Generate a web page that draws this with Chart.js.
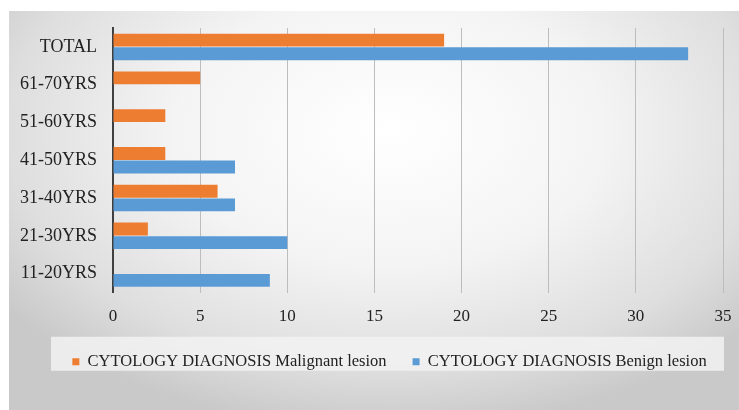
<!DOCTYPE html>
<html>
<head>
<meta charset="utf-8">
<script src="https://cdn.jsdelivr.net/npm/chart.js@4"></script>
<style>
  body { margin: 0; background: #fff; }
  #wrap { position: relative; width: 739px; height: 410px; }
  #bg {
    position: absolute; left: 9px; top: 11px; width: 730px; height: 399px;
    background: radial-gradient(ellipse 65% 75% at 52% 30%, #ffffff 0%, #f4f4f4 45%, #dedede 80%, #c9c9c9 100%);
  }
  canvas { position: absolute; left: 0; top: 0; }
</style>
</head>
<body>
<div id="wrap">
  <div id="bg"></div>
  <canvas id="myChart" width="739" height="410"></canvas>
</div>
<script>
// データ
const ageGroups = ['TOTAL', '61-70YRS', '51-60YRS', '41-50YRS', '31-40YRS', '21-30YRS', '11-20YRS'];
const malignant = [19, 5, 3, 3, 6, 2, 0];
const benign = [33, 0, 0, 7, 7, 10, 9];
const xTicks = [0, 5, 10, 15, 20, 25, 30, 35];

const serif = "'Liberation Serif', 'Times New Roman', serif";

// 凡例を少し右へずらし、背景の帯を描く
const legendBg = {
    id: 'legendBg',
    afterLayout(chart) {
        chart.legend.left += 28;
        chart.legend.right += 28;
    },
    beforeDraw(chart) {
        const lg = chart.legend;
        const c = chart.ctx;
        c.save();
        c.fillStyle = 'rgba(242,242,242,0.85)';
        const cy = lg.top + lg.height / 2;
        c.fillRect(51, cy - 17, 673, 34);
        c.restore();
    }
};

const ctx = document.getElementById('myChart').getContext('2d');
new Chart(ctx, {
    type: 'bar',
    data: {
        labels: ageGroups,
        datasets: [
            {
                label: 'CYTOLOGY DIAGNOSIS Malignant lesion',
                data: malignant,
                backgroundColor: '#ED7D31'
            },
            {
                label: 'CYTOLOGY DIAGNOSIS Benign lesion',
                data: benign,
                backgroundColor: '#5B9BD5'
            }
        ]
    },
    options: {
        indexAxis: 'y',
        responsive: false,
        animation: false,
        categoryPercentage: 0.72,
        barPercentage: 0.95,
        layout: { padding: { top: 28, right: 16, left: 0, bottom: 30 } },
        scales: {
            x: {
                min: 0,
                max: 35,
                afterBuildTicks: s => { s.ticks = xTicks.map(v => ({ value: v })); },
                grid: { color: '#bdbdbd', drawTicks: false },
                border: { display: false },
                ticks: {
                    color: '#222',
                    padding: 14,
                    font: { family: serif, size: 17 }
                },
                afterFit: s => {
                    s.height = 35;
                    s.paddingLeft = 0;
                    s.paddingRight = 0;
                }
            },
            y: {
                grid: { display: false, drawTicks: false },
                border: { display: true, color: '#404040', width: 2 },
                ticks: {
                    color: '#222',
                    padding: 16,
                    font: { family: serif, size: 18 }
                },
                afterFit: s => { s.width = 113; }
            }
        },
        plugins: {
            legend: {
                position: 'bottom',
                labels: {
                    color: '#222',
                    boxWidth: 7,
                    boxHeight: 7,
                    padding: 26,
                    font: { family: serif, size: 16.5 }
                }
            },
            tooltip: { enabled: false }
        }
    },
    plugins: [legendBg]
});
</script>
</body>
</html>
